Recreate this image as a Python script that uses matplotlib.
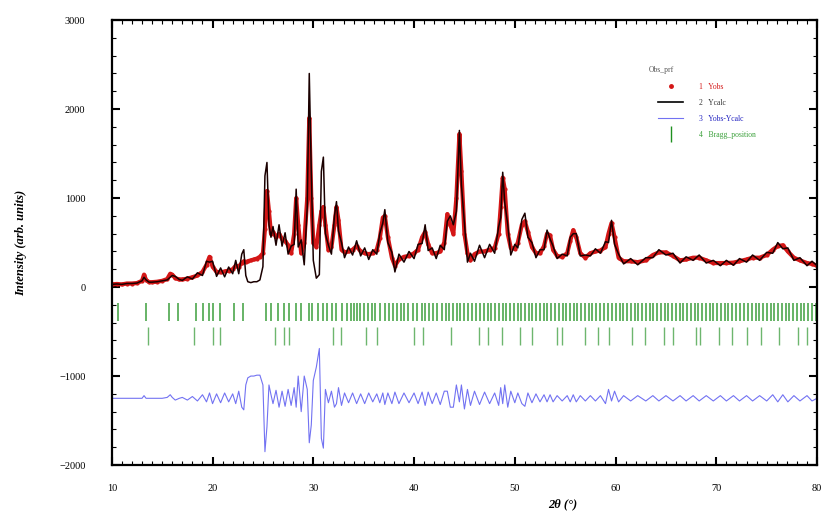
import numpy as np
import matplotlib.pyplot as plt
from matplotlib.ticker import MultipleLocator, AutoMinorLocator
from matplotlib.lines import Line2D

plt.rcParams['font.family'] = ['Liberation Serif', 'DejaVu Serif']

two_theta = [10.0, 10.5, 11.0, 11.5, 12.0, 12.5, 13.0, 13.2, 13.4, 13.7, 14.0, 14.5, 15.0, 15.5,
             15.8, 16.0, 16.3, 16.7, 17.0, 17.5, 18.0, 18.5, 19.0, 19.4, 19.7, 20.0, 20.4, 20.8,
             21.2, 21.6, 22.0, 22.3, 22.6, 22.9, 23.1, 23.3, 23.5, 23.8, 24.1, 24.4, 24.7, 25.0,
             25.2, 25.4, 25.6, 25.8, 26.0, 26.3, 26.6, 26.9, 27.2, 27.5, 27.8, 28.1, 28.3, 28.5,
             28.8, 29.1, 29.4, 29.6, 29.8, 30.0, 30.3, 30.6, 30.8, 31.0, 31.2, 31.5, 31.8, 32.1,
             32.3, 32.5, 32.8, 33.1, 33.5, 33.9, 34.3, 34.7, 35.1, 35.5, 35.9, 36.3, 36.6, 36.9,
             37.1, 37.4, 37.8, 38.1, 38.5, 39.0, 39.5, 40.0, 40.4, 40.8, 41.1, 41.4, 41.8, 42.2,
             42.6, 43.0, 43.3, 43.6, 43.9, 44.2, 44.5, 44.7, 45.0, 45.3, 45.6, 46.0, 46.5, 47.0,
             47.5, 48.0, 48.4, 48.6, 48.8, 49.0, 49.3, 49.6, 50.0, 50.3, 50.7, 51.0, 51.3, 51.7,
             52.1, 52.5, 52.9, 53.2, 53.5, 53.8, 54.2, 54.7, 55.2, 55.5, 55.8, 56.1, 56.5, 57.0,
             57.5, 58.0, 58.5, 59.0, 59.3, 59.6, 59.9, 60.3, 60.8, 61.5, 62.2, 63.0, 63.7, 64.3,
             65.0, 65.7, 66.4, 67.0, 67.7, 68.3, 69.0, 69.7, 70.4, 71.0, 71.7, 72.3, 73.0, 73.6,
             74.3, 75.0, 75.6, 76.1, 76.6, 77.1, 77.7, 78.3, 79.0, 79.5, 80.0]

y_obs = [30, 35, 30, 40, 40, 45, 70, 140, 80, 55, 55, 60, 70, 90,
         150, 140, 100, 85, 85, 95, 110, 130, 170, 250, 340, 230, 170, 165,
         175, 185, 200, 240, 230, 270, 290, 280, 290, 300, 310, 320, 340, 380,
         650, 1080, 850, 600, 620, 560, 600, 540, 520, 470, 380, 600, 1000, 700,
         380, 500, 1000, 1900, 1000, 500, 450, 700, 850, 900, 700, 420, 450, 700,
         900, 750, 420, 390, 400, 420, 460, 400, 380, 370, 380, 420, 550, 780,
         800, 560, 330, 240, 310, 340, 350, 380, 420, 560, 620, 480, 380, 380,
         400, 500, 820, 700, 600, 1000, 1720, 1300, 600, 380, 300, 370, 400, 400,
         420, 440, 600, 900, 1230, 1100, 600, 440, 430, 500, 700, 740, 620, 450,
         380, 380, 460, 600, 580, 420, 350, 340, 380, 520, 640, 560, 380, 330,
         380, 400, 410, 450, 600, 720, 560, 330, 290, 290, 280, 300, 360, 390,
         390, 350, 300, 310, 330, 330, 300, 270, 270, 270, 275, 290, 310, 330,
         330, 360, 420, 460, 470, 400, 330, 300, 270, 260, 240]

y_diff = [0, 0, 0, 0, 0, 0, 0, 30, 0, 0, 0, 0, 0, 10,
          40, 10, -20, 0, 10, -20, 20, -30, 40, -40, 60, -60, 50, -50,
          60, -40, 50, -60, 80, -100, -130, 150, 230, 250, 250, 260, 260, 150,
          -600, -320, 150, 40, -60, 90, -100, 80, -90, 100, -80, 120, -100, 250,
          -150, 250, 100, -500, -300, 200, 350, 560, -450, -560, 100, -50, 80, -100,
          -60, 120, -80, 60, -50, 60, -60, 50, -60, 60, -40, 50, -50, 60,
          -70, 60, -60, 70, -60, 60, -50, 60, -60, 70, -80, 70, -60, 60,
          -70, 80, 80, -100, -100, 150, -40, 150, -120, 100, -80, 80, -70, 70,
          -60, 60, -80, 120, -60, 150, -100, 80, -50, 60, -60, -90, 60, -50,
          50, -40, 40, -40, 40, -40, 30, -30, 30, -40, 40, -40, 30, -30,
          30, -30, 30, -60, 100, -30, 80, -40, 30, -30, 30, -30, 30, -30,
          30, -30, 30, -30, 30, -30, 30, -30, 30, -30, 30, -30, 30, -30,
          30, -30, 40, -40, 40, -40, 30, -30, 30, -30, 0]

diff_offset = -1250

# Bragg reflections, two phases
bragg_1 = [10.6, 13.4, 15.7, 16.6, 18.4, 19.1, 19.6, 20.0, 20.7, 22.1, 23.0, 25.3, 25.8, 26.5,
           27.1, 27.6, 28.3, 28.8, 29.6, 29.9, 30.5, 31.0, 31.4, 31.9, 32.3, 32.8, 33.3, 33.7,
           34.0, 34.3, 34.6, 35.0, 35.4, 35.8, 36.1, 36.6, 37.1, 37.5, 37.9, 38.3, 38.7, 39.0,
           39.4, 39.9, 40.3, 40.8, 41.1, 41.5, 41.9, 42.3, 42.8, 43.2, 43.5, 43.9, 44.3, 44.6,
           45.0, 45.4, 45.8, 46.1, 46.5, 46.9, 47.3, 47.6, 48.0, 48.4, 48.8, 49.1, 49.5, 49.9,
           50.3, 50.6, 51.0, 51.4, 51.7, 52.1, 52.5, 52.9, 53.2, 53.6, 54.0, 54.4, 54.8, 55.1,
           55.5, 55.9, 56.2, 56.6, 57.0, 57.4, 57.7, 58.1, 58.5, 58.9, 59.2, 59.6, 60.0, 60.4,
           60.7, 61.1, 61.5, 61.9, 62.2, 62.6, 63.0, 63.4, 63.7, 64.1, 64.5, 64.9, 65.2, 65.6,
           66.0, 66.4, 66.7, 67.1, 67.5, 67.9, 68.2, 68.6, 69.0, 69.4, 69.7, 70.1, 70.5, 70.9,
           71.2, 71.6, 72.0, 72.4, 72.7, 73.1, 73.5, 73.9, 74.2, 74.6, 75.0, 75.4, 75.7, 76.1,
           76.5, 76.9, 77.2, 77.6, 78.0, 78.4, 78.7, 79.1, 79.5, 79.9]
bragg_2 = [13.6, 18.2, 20.0, 20.7, 26.2, 27.1, 27.6, 32.0, 32.7, 35.2, 36.3, 40.0, 40.9, 43.7,
           46.4, 47.3, 48.7, 50.5, 51.7, 54.2, 54.7, 57.0, 58.3, 59.3, 61.6, 62.9, 64.8, 65.7,
           68.0, 68.4, 70.3, 71.6, 73.0, 74.4, 76.2, 78.1, 79.0]

tt = np.array(two_theta)
obs = np.array(y_obs, dtype=float)
diff = np.array(y_diff, dtype=float)
calc = obs - diff

red = '#d41616'
blue = '#7272f2'
green = '#1f9020'

fig = plt.figure(figsize=(8.22, 5.15), dpi=100)
ax = fig.add_axes([0.136, 0.097, 0.858, 0.864])

ax.plot(tt, obs, color=red, lw=3.0, zorder=2)
ax.plot(tt, obs, 'o', color=red, ms=2.0, zorder=2)
ax.plot(tt, calc, color='#1a0000', lw=1.1, zorder=3)
ax.plot(tt, diff + diff_offset, color=blue, lw=0.8, zorder=2)
ax.vlines(bragg_1, -380, -180, color=green, lw=1.2, alpha=0.8)
ax.vlines(bragg_2, -650, -450, color=green, lw=1.0, alpha=0.65)

ax.set_xlim(10, 80)
ax.set_ylim(-2000, 3000)
ax.xaxis.set_major_locator(MultipleLocator(10))
ax.xaxis.set_minor_locator(AutoMinorLocator(10))
ax.yaxis.set_major_locator(MultipleLocator(1000))
ax.yaxis.set_minor_locator(AutoMinorLocator(5))
ax.tick_params(which='both', direction='in', top=True, right=True, labelsize=7.5)
ax.tick_params(axis='x', which='both', pad=14)
ax.tick_params(axis='y', which='both', pad=19)
ax.tick_params(which='major', length=6, width=1.5)
ax.tick_params(which='minor', length=3, width=0.8)
for s in ax.spines.values():
    s.set_linewidth(1.6)

ax.set_ylabel('Intensity (arb. units)', fontsize=9, style='italic', fontweight='bold', labelpad=23)
ax.set_xlabel('2θ (°)', fontsize=9, style='italic', fontweight='bold')
ax.xaxis.set_label_coords(0.64, -0.075)

handles = [Line2D([], [], marker='o', ls='', color=red, ms=2.5),
           Line2D([], [], color='black', lw=1.2),
           Line2D([], [], color=blue, lw=0.8),
           Line2D([], [], marker='|', ls='', color=green, ms=12)]
labels = ['1   Yobs', '2   Ycalc', '3   Yobs-Ycalc', '4   Bragg_position']
leg = ax.legend(handles, labels, loc='upper left', bbox_to_anchor=(0.765, 0.875), frameon=False,
                fontsize=5.5, handlelength=3.3, handletextpad=2.0, labelspacing=1.05,
                labelcolor=[red, '#333333', '#2020c0', '#3aa03a'])
ax.text(0.762, 0.883, 'Obs_prf', transform=ax.transAxes, fontsize=5.5, color='#555555')

fig.savefig('out.png', dpi=100)
